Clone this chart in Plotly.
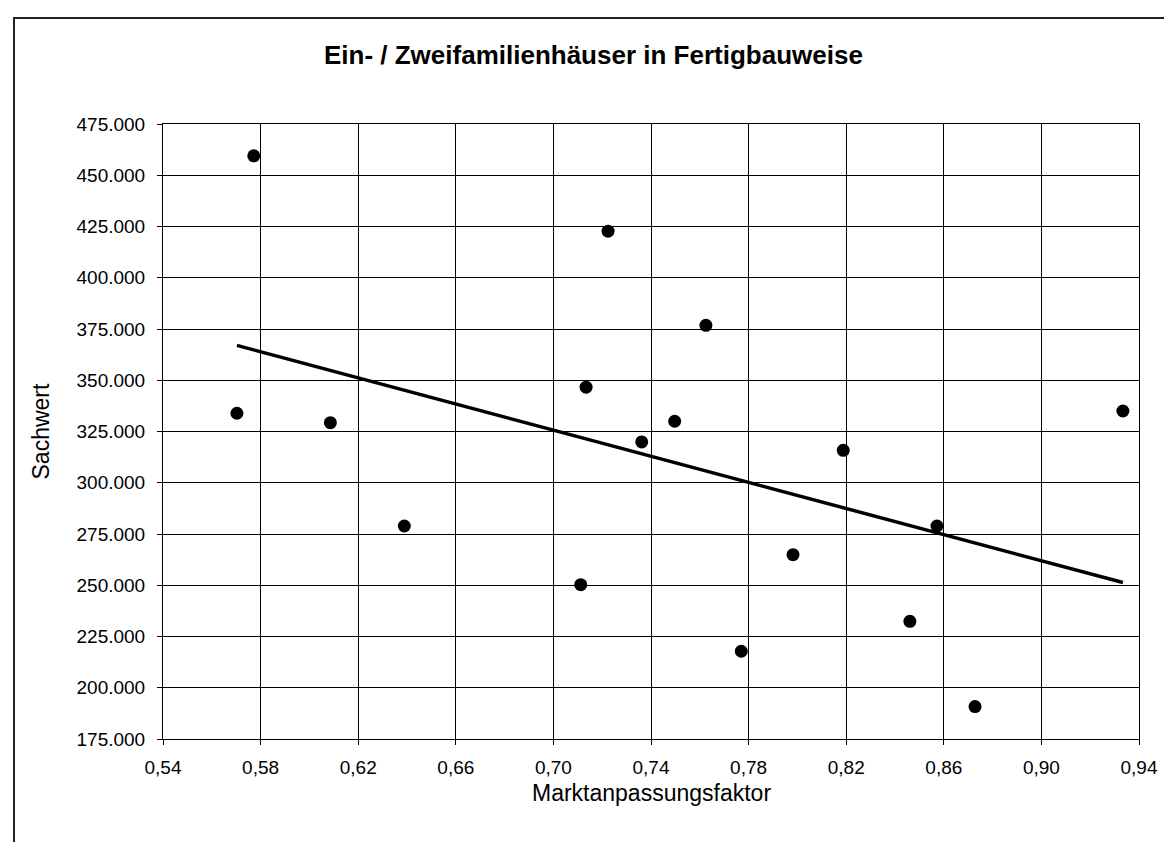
import numpy as np
import plotly.graph_objects as go

# Data
marktanpassungsfaktor = [0.5772, 0.5703, 0.6086, 0.6389, 0.7112, 0.7134, 0.7224, 0.7362,
                         0.7497, 0.7625, 0.7770, 0.7982, 0.8188, 0.8461, 0.8572, 0.8728, 0.9334]
sachwert = [459500, 333900, 329300, 278900, 250300, 346600, 422700, 319900,
            330000, 376800, 217800, 264900, 315800, 232400, 278900, 190800, 335000]

x_ticks = [0.54, 0.58, 0.62, 0.66, 0.70, 0.74, 0.78, 0.82, 0.86, 0.90, 0.94]
y_ticks = [175000, 200000, 225000, 250000, 275000, 300000, 325000, 350000,
           375000, 400000, 425000, 450000, 475000]

title_text = "Ein- / Zweifamilienhäuser in Fertigbauweise"
x_title = "Marktanpassungsfaktor"
y_title = "Sachwert"

# Linear trendline (least squares) over the data's x extent
slope, intercept = np.polyfit(marktanpassungsfaktor, sachwert, 1)
trend_x = [min(marktanpassungsfaktor), max(marktanpassungsfaktor)]
trend_y = [slope * v + intercept for v in trend_x]

W, H = 1172, 842
L, R, T, B = 155, 1131, 116, 731  # plot area in pixels
FONT = "Liberation Sans, Arial, sans-serif"


def px_x(p):
    return (p - L) / (R - L)


def px_y(p):
    return (B - p) / (B - T)


fig = go.Figure()
fig.add_trace(go.Scatter(x=trend_x, y=trend_y, mode="lines",
                         line=dict(color="black", width=3.5), hoverinfo="skip",
                         showlegend=False))
fig.add_trace(go.Scatter(x=marktanpassungsfaktor, y=sachwert, mode="markers",
                         marker=dict(color="black", size=13), showlegend=False))

axis_common = dict(showgrid=True, gridcolor="black", gridwidth=1,
                   showline=True, linecolor="black", linewidth=1, mirror=True,
                   ticks="outside", ticklen=5, tickcolor="black", tickwidth=1,
                   zeroline=False, tickfont=dict(family=FONT, size=19, color="black"))

fig.update_xaxes(range=[0.54, 0.94], tickvals=x_ticks, tickformat=".2f",
                 ticklabelstandoff=6, **axis_common)
fig.update_yaxes(range=[175000, 475000], tickvals=y_ticks, tickformat=",.0f",
                 ticklabelstandoff=8, **axis_common)

fig.add_annotation(text=x_title, xref="paper", yref="paper", x=0.5, y=px_y(785),
                   xanchor="center", yanchor="middle", showarrow=False,
                   font=dict(family=FONT, size=23, color="black"))
fig.add_annotation(text=y_title, xref="paper", yref="paper", x=px_x(32), y=0.5,
                   xanchor="center", yanchor="middle", textangle=-90, showarrow=False,
                   font=dict(family=FONT, size=23, color="black"))

fig.add_shape(type="rect", xref="paper", yref="paper",
              x0=px_x(6), x1=px_x(1165), y0=px_y(860), y1=px_y(10),
              line=dict(color="#222", width=2), fillcolor="rgba(0,0,0,0)", layer="below")

fig.update_layout(
    width=W, height=H, autosize=False,
    margin=dict(l=L, r=W - R, t=T, b=H - B, pad=0),
    paper_bgcolor="white", plot_bgcolor="white",
    separators=",.",
    title=dict(text="<b>" + title_text + "</b>", x=0.4995, xref="container", xanchor="center",
               y=1 - 47 / H, yref="container", yanchor="middle",
               font=dict(family=FONT, size=26, color="black")),
    font=dict(family=FONT, color="black"),
)

fig.write_html("out.html")
